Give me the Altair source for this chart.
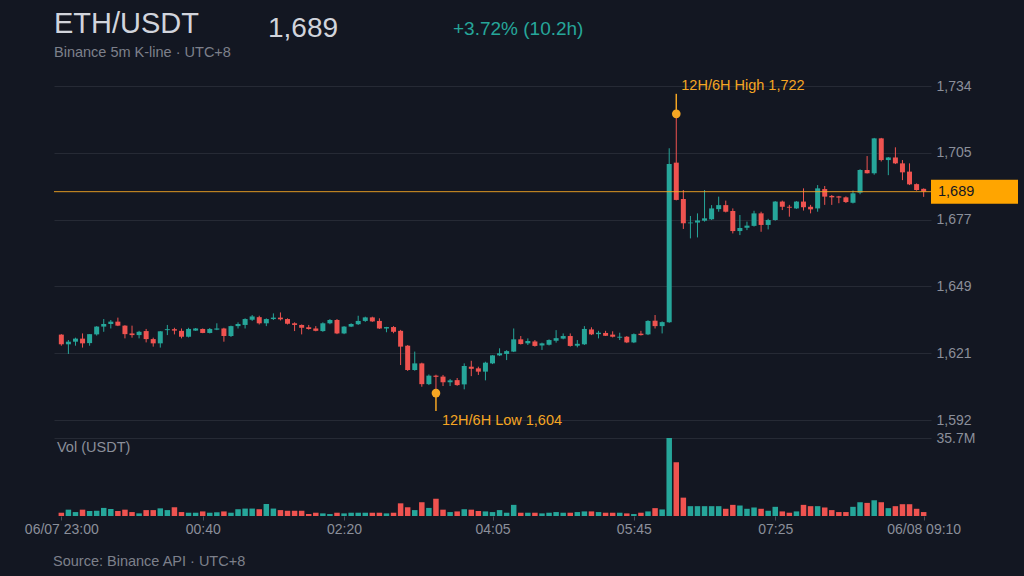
import altair as alt
import pandas as pd

# ---------------- data ----------------
pair = "ETH/USDT"
subtitle = "Binance 5m K-line · UTC+8"
source_note = "Source: Binance API · UTC+8"
vol_title = "Vol (USDT)"
annot_prefix = "12H/6H"

opens = [1628.4, 1624.3, 1625.4, 1626.7, 1624.8, 1628.5, 1631.8, 1632.9, 1633.9, 1632.2,
         1628.9, 1628.2, 1629.9, 1626.5, 1624.7, 1630.3, 1630.7, 1630.0, 1627.5, 1630.1,
         1630.8, 1629.1, 1630.5, 1631.0, 1627.8, 1632.0, 1632.5, 1634.7, 1635.8, 1633.2,
         1635.0, 1635.6, 1635.0, 1633.2, 1632.5, 1631.5, 1631.0, 1629.9, 1633.2, 1634.6,
         1628.9, 1631.8, 1632.8, 1634.2, 1635.7, 1634.2, 1631.0, 1631.6, 1630.0, 1623.7,
         1613.4, 1616.2, 1607.4, 1611.0, 1610.6, 1608.2, 1609.1, 1607.3, 1614.8, 1614.1,
         1612.7, 1616.2, 1619.6, 1620.2, 1621.2, 1626.4, 1624.7, 1625.5, 1623.8, 1624.1,
         1625.8, 1626.7, 1627.8, 1623.7, 1624.3, 1630.6, 1628.6, 1629.1, 1628.4, 1627.1,
         1627.5, 1625.1, 1628.8, 1628.5, 1634.3, 1632.0, 1633.6, 1701.3, 1685.9, 1675.6,
         1675.9, 1676.7, 1677.3, 1681.6, 1683.3, 1680.8, 1672.3, 1673.7, 1674.5, 1679.8,
         1674.9, 1677.0, 1684.8, 1682.6, 1681.9, 1684.8, 1682.6, 1681.9, 1690.1, 1687.2,
         1687.0, 1686.6, 1684.3, 1688.6, 1698.2, 1696.8, 1711.6, 1702.4, 1703.5, 1701.0,
         1697.5, 1692.2, 1690.2]
highs = [1628.6, 1626.1, 1627.1, 1628.9, 1628.6, 1632.0, 1635.0, 1634.6, 1635.6, 1632.4,
         1632.2, 1630.0, 1630.8, 1627.1, 1629.9, 1632.5, 1631.3, 1631.0, 1631.3, 1631.2,
         1631.0, 1631.2, 1633.2, 1631.3, 1632.2, 1633.6, 1635.3, 1636.7, 1636.4, 1635.3,
         1637.4, 1637.8, 1635.3, 1633.6, 1632.7, 1632.5, 1632.0, 1633.6, 1635.0, 1635.0,
         1632.0, 1633.2, 1636.4, 1636.0, 1636.0, 1635.3, 1631.7, 1632.0, 1630.4, 1624.0,
         1621.2, 1616.5, 1611.5, 1611.4, 1611.3, 1609.6, 1610.0, 1616.2, 1617.3, 1614.8,
         1616.9, 1619.7, 1622.6, 1621.8, 1631.0, 1627.8, 1626.8, 1626.1, 1625.0, 1626.4,
         1630.3, 1628.9, 1628.9, 1626.1, 1632.0, 1631.5, 1630.0, 1630.0, 1629.8, 1629.2,
         1627.8, 1628.9, 1630.0, 1634.5, 1636.7, 1634.0, 1707.4, 1722.0, 1689.7, 1678.7,
         1679.8, 1689.7, 1683.3, 1686.9, 1685.2, 1681.9, 1679.1, 1676.3, 1680.9, 1680.5,
         1677.5, 1685.0, 1685.2, 1683.4, 1685.0, 1690.4, 1683.4, 1691.8, 1691.4, 1687.6,
         1687.2, 1687.0, 1689.5, 1698.5, 1704.1, 1711.8, 1711.8, 1703.7, 1707.8, 1702.4,
         1701.0, 1692.5, 1690.4]
lows = [1623.7, 1620.2, 1623.7, 1622.9, 1623.7, 1628.0, 1629.6, 1631.0, 1632.0, 1626.8,
        1627.1, 1626.8, 1625.1, 1623.3, 1622.9, 1628.2, 1628.5, 1626.8, 1627.2, 1630.0,
        1629.0, 1628.9, 1630.3, 1625.4, 1627.4, 1631.0, 1631.0, 1634.2, 1632.7, 1632.0,
        1634.6, 1634.4, 1632.7, 1629.9, 1628.5, 1630.5, 1629.8, 1629.6, 1632.8, 1628.6,
        1628.6, 1631.6, 1632.5, 1633.8, 1633.8, 1630.8, 1629.4, 1629.0, 1615.5, 1613.0,
        1613.1, 1606.3, 1607.0, 1603.6, 1606.6, 1606.6, 1606.7, 1605.2, 1610.8, 1611.3,
        1609.0, 1615.9, 1619.3, 1617.6, 1621.0, 1624.2, 1624.0, 1623.3, 1621.9, 1623.8,
        1625.0, 1626.4, 1623.3, 1623.0, 1624.0, 1628.2, 1626.8, 1627.8, 1627.2, 1626.1,
        1624.8, 1624.8, 1628.0, 1628.2, 1631.0, 1628.9, 1633.4, 1685.3, 1673.2, 1669.2,
        1669.6, 1676.3, 1677.0, 1680.5, 1680.2, 1671.3, 1670.6, 1672.7, 1674.2, 1672.0,
        1673.0, 1676.7, 1681.2, 1678.4, 1681.7, 1681.0, 1679.8, 1680.5, 1683.4, 1683.4,
        1684.1, 1684.2, 1684.0, 1687.9, 1696.7, 1696.2, 1701.8, 1696.0, 1700.7, 1693.9,
        1691.8, 1689.4, 1686.8]
closes = [1624.3, 1625.4, 1626.7, 1624.7, 1628.6, 1631.8, 1632.9, 1633.9, 1632.2, 1628.6,
          1628.2, 1629.6, 1626.5, 1624.7, 1629.8, 1630.7, 1630.1, 1627.5, 1630.8, 1631.0,
          1629.1, 1630.8, 1631.0, 1627.8, 1632.0, 1632.9, 1635.0, 1636.1, 1633.2, 1635.0,
          1635.6, 1634.9, 1633.0, 1632.5, 1631.3, 1630.8, 1630.0, 1633.2, 1634.6, 1628.9,
          1631.8, 1632.9, 1634.2, 1635.7, 1634.0, 1631.0, 1631.6, 1629.6, 1623.3, 1613.4,
          1616.2, 1607.4, 1611.0, 1610.5, 1608.2, 1609.0, 1607.0, 1615.1, 1613.9, 1612.7,
          1616.5, 1619.6, 1620.5, 1621.4, 1626.4, 1624.4, 1625.7, 1623.6, 1624.7, 1626.1,
          1626.9, 1627.8, 1623.6, 1624.5, 1630.8, 1628.5, 1629.2, 1627.9, 1627.5, 1627.5,
          1625.1, 1628.6, 1628.2, 1634.2, 1632.0, 1633.7, 1700.7, 1685.5, 1675.6, 1675.9,
          1676.8, 1677.7, 1681.9, 1683.3, 1680.5, 1672.3, 1673.6, 1674.6, 1679.8, 1674.9,
          1677.0, 1684.8, 1682.6, 1682.2, 1684.8, 1682.4, 1681.5, 1690.4, 1686.9, 1686.6,
          1686.5, 1684.6, 1688.3, 1698.2, 1696.8, 1711.6, 1702.4, 1703.5, 1701.0, 1697.2,
          1692.1, 1689.7, 1689.0]
volumes_m = [1.5, 2.9, 1.8, 2.9, 2.3, 2.4, 3.7, 3.2, 2.3, 2.9,
             1.8, 1.2, 2.7, 2.7, 3.5, 2.7, 4.0, 1.8, 1.5, 1.5,
             2.1, 1.5, 1.7, 2.1, 1.5, 3.1, 3.4, 3.4, 3.1, 5.5,
             3.4, 2.7, 2.4, 2.4, 2.4, 0.9, 1.5, 1.2, 0.9, 1.5,
             1.2, 1.5, 1.5, 1.5, 1.5, 1.5, 1.2, 1.5, 5.8, 4.0,
             2.7, 6.3, 3.7, 7.9, 2.9, 1.8, 2.1, 3.1, 2.9, 2.3,
             2.1, 1.8, 2.7, 1.5, 5.1, 1.5, 1.5, 1.5, 1.2, 1.5,
             1.8, 1.5, 1.5, 1.8, 2.1, 2.1, 1.8, 1.5, 1.5, 1.5,
             1.2, 0.9, 1.5, 2.1, 3.6, 3.0, 35.7, 24.6, 8.4, 4.5,
             4.5, 4.5, 4.5, 4.5, 3.3, 5.1, 4.8, 3.3, 3.9, 3.3,
             2.4, 4.2, 2.1, 1.5, 2.1, 5.1, 4.5, 4.5, 3.9, 2.7,
             1.8, 1.8, 4.2, 6.3, 6.0, 7.2, 6.3, 3.6, 4.5, 5.4,
             5.4, 3.3, 1.8]

time_tick_index = [0, 20, 40, 61, 81, 101, 122]
time_tick_labels = ["06/07 23:00", "00:40", "02:20", "04:05", "05:45", "07:25", "06/08 09:10"]
price_ticks = [1592.2, 1620.52, 1648.84, 1677.16, 1705.48, 1733.8]
vol_ticks = [35.7e6]

# ---------------- styling ----------------
BG = "#131722"
GRID = "#262a35"
UP = "#26a69a"
DOWN = "#ef5350"
ORANGE = "#f5a623"
BOX = "#ffa500"
LABEL = "#8b8f9a"
TITLE = "#d1d4dc"
SUB = "#7d808b"
FONT = "Liberation Sans"
AX_FS = 14
SMALL_FS = 14.5

W, H = 877, 430          # plot area (x 54..931, y 86..516)
PRICE_PX = 334           # price panel height
VOL_TOP, VOL_BOT = 352, 430

n = len(closes)
df = pd.DataFrame({
    "i": list(range(n)),
    "open": opens, "high": highs, "low": lows, "close": closes,
    "vol": [v * 1e6 for v in volumes_m],
})
df["dir"] = ["up" if c >= o else "down" for o, c in zip(opens, closes)]
df["body_hi"] = [max(o, c) for o, c in zip(opens, closes)]
df["body_lo"] = [min(o, c) for o, c in zip(opens, closes)]

last = df.tail(1).copy()
hi_row = df.loc[[df["high"].idxmax()]].copy()
hi_row["label"] = [f"{annot_prefix} High {v:,.0f}" for v in hi_row["high"]]
lo_row = df.loc[[df["low"].idxmin()]].copy()
lo_row["label"] = [f"{annot_prefix} Low {v:,.0f}" for v in lo_row["low"]]

pct = (closes[-1] / opens[0] - 1) * 100
hours = (n - 1) * 5 / 60
header = pd.DataFrame({
    "pair": [pair],
    "price": [f"{closes[-1]:,.0f}"],
    "chg": [f"+{pct:.2f}% ({hours:.1f}h)"],
    "sub": [subtitle],
    "src": [source_note],
    "vol": [vol_title],
})

label_expr = " : ".join(
    f"datum.value == {v} ? '{t}'" for v, t in zip(time_tick_index, time_tick_labels)
) + " : ''"

X = alt.X(
    "i:Q",
    scale=alt.Scale(domain=[-0.33, 122.33], nice=False, zero=False),
    axis=alt.Axis(values=time_tick_index, labelExpr=label_expr, grid=False, domain=False,
                  ticks=True, tickSize=4, tickColor="#4a4e59", labelColor=LABEL,
                  labelFontSize=AX_FS, labelFont=FONT, labelPadding=2, labelFlush=False,
                  labelOverlap=False, title=None),
)

price_scale = alt.Scale(domain=[price_ticks[0], price_ticks[-1]], range=[PRICE_PX, 0],
                        nice=False, zero=False)
price_axis = alt.Axis(orient="right", values=price_ticks, format=",.0f", grid=True,
                      gridColor=GRID, gridWidth=1, domain=False, ticks=False,
                      labelPadding=5, labelColor=LABEL, labelFontSize=AX_FS, labelFont=FONT,
                      title=None)

color = alt.Color("dir:N", scale=alt.Scale(domain=["up", "down"], range=[UP, DOWN]), legend=None)

wicks = alt.Chart(df).mark_rule(strokeWidth=1).encode(
    x=X, y=alt.Y("low:Q", scale=price_scale, axis=price_axis), y2="high:Q", color=color)
bodies = alt.Chart(df).mark_bar(size=5, orient="vertical").encode(
    x=X, y=alt.Y("body_hi:Q", scale=price_scale, axis=price_axis), y2="body_lo:Q", color=color)

last_line = alt.Chart(last).mark_rule(color=ORANGE, strokeWidth=1, opacity=0.9).encode(
    y=alt.Y("close:Q", scale=price_scale, axis=price_axis))
last_box = alt.Chart(last).mark_rect(color=BOX, yOffset=-12, y2Offset=12).encode(
    x=alt.value(W), x2=alt.value(W + 87),
    y=alt.Y("close:Q", scale=price_scale, axis=price_axis), y2="close:Q")
last_text = alt.Chart(last).mark_text(align="left", baseline="middle", color="#131722",
                                      fontSize=14.5, font=FONT).encode(
    x=alt.value(W + 7), y=alt.Y("close:Q", scale=price_scale, axis=price_axis),
    text=alt.Text("close:Q", format=",.0f"))

hi_stem = alt.Chart(hi_row).mark_rule(color=ORANGE, strokeWidth=1.5, y2Offset=-20).encode(
    x=X, y=alt.Y("high:Q", scale=price_scale, axis=price_axis), y2="high:Q")
hi_dot = alt.Chart(hi_row).mark_circle(color=ORANGE, size=75, opacity=1).encode(
    x=X, y=alt.Y("high:Q", scale=price_scale, axis=price_axis))
hi_text = alt.Chart(hi_row).mark_text(align="left", baseline="middle", dx=5, dy=-28,
                                      color=ORANGE, fontSize=SMALL_FS, font=FONT).encode(
    x=X, y=alt.Y("high:Q", scale=price_scale, axis=price_axis), text="label:N")

lo_stem = alt.Chart(lo_row).mark_rule(color=ORANGE, strokeWidth=1.5, y2Offset=18).encode(
    x=X, y=alt.Y("low:Q", scale=price_scale, axis=price_axis), y2="low:Q")
lo_dot = alt.Chart(lo_row).mark_circle(color=ORANGE, size=75, opacity=1).encode(
    x=X, y=alt.Y("low:Q", scale=price_scale, axis=price_axis))
lo_text = alt.Chart(lo_row).mark_text(align="left", baseline="middle", dx=6, dy=28,
                                      color=ORANGE, fontSize=SMALL_FS, font=FONT).encode(
    x=X, y=alt.Y("low:Q", scale=price_scale, axis=price_axis), text="label:N")

price = alt.layer(wicks, bodies, last_line, last_box, last_text,
                  hi_stem, hi_dot, hi_text, lo_stem, lo_dot, lo_text)

vol_bars = alt.Chart(df).mark_bar(size=5.5, orient="vertical").encode(
    x=X,
    y=alt.Y("vol:Q", scale=alt.Scale(domain=[0, vol_ticks[0]], range=[VOL_BOT, VOL_TOP],
                                     nice=False, zero=True),
            axis=alt.Axis(orient="right", values=vol_ticks, format=".3s", grid=True,
                          gridColor=GRID, domain=False, ticks=False, labelPadding=5,
                          labelColor=LABEL, labelFontSize=AX_FS, labelFont=FONT, title=None)),
    color=color,
)

def htext(field, x, y, size, col, baseline="alphabetic"):
    return alt.Chart(header).mark_text(align="left", baseline=baseline, fontSize=size,
                                       color=col, font=FONT).encode(
        x=alt.value(x), y=alt.value(y), text=f"{field}:N")

texts = [
    htext("pair", 0, -53, 29, TITLE),
    htext("price", 214, -49, 28, TITLE),
    htext("chg", 399, -51, 19, UP),
    htext("sub", 0, -29, SMALL_FS, SUB),
    htext("vol", 3, 366, SMALL_FS, LABEL),
    htext("src", -1, 480, SMALL_FS, SUB),
]

chart = alt.layer(price, vol_bars, *texts).resolve_scale(y="independent").properties(
    width=W, height=H,
    autosize=alt.AutoSizeParams(type="none"),
    padding={"left": 54, "top": 86, "right": 93, "bottom": 60},
    background=BG,
).configure_view(stroke=None)

chart.save("out.html", embed_options={"renderer": "svg", "actions": False})
